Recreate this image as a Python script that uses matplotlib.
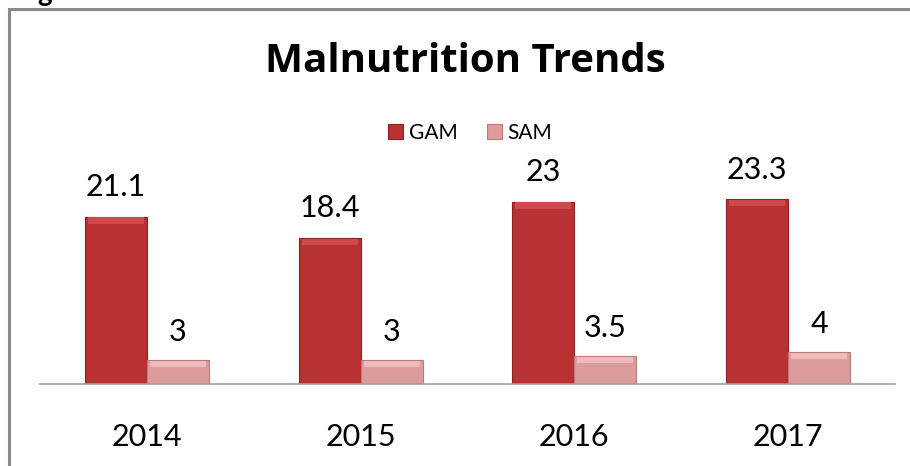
import numpy as np
import matplotlib.pyplot as plt
from matplotlib.patches import Rectangle

years = ['2014', '2015', '2016', '2017']
gam = [21.1, 18.4, 23, 23.3]
sam = [3, 3, 3.5, 4]
gam_labels = ['21.1', '18.4', '23', '23.3']
sam_labels = ['3', '3', '3.5', '4']

plt.rcParams['font.family'] = ['Lato', 'DejaVu Sans']

W, H = 910, 466
fig = plt.figure(figsize=(W / 100, H / 100), dpi=100)

# outer frame, cut off at right and bottom
fig.patches.append(Rectangle((9 / W, -0.1), 1.2, (H - 9) / H + 0.1,
                             transform=fig.transFigure, fill=False,
                             edgecolor='#8a8a8a', linewidth=2.2))
fig.text(45 / W, 1 - 1 / H, 'g', fontsize=20, fontweight='bold',
         ha='center', va='baseline')

ax = fig.add_axes([40 / W, (H - 384) / H, 855 / W, 240 / H])
x = np.arange(len(years))
w = 0.29
b1 = ax.bar(x - w / 2, gam, w, color='#b83232', edgecolor='#8e2020',
            linewidth=0.8, label='GAM')
b2 = ax.bar(x + w / 2, sam, w, color='#dd9c9c', edgecolor='#c07878',
            linewidth=0.8, label='SAM')

# lighter top bevel on each bar
for bars, c in [(b1, '#cc4a4a'), (b2, '#ecbcbc')]:
    for r in bars:
        ax.bar(r.get_x() + r.get_width() / 2, 0.8, r.get_width() * 0.9,
               bottom=r.get_height() - 0.85, color=c, linewidth=0)

for r, t in zip(b1, gam_labels):
    ax.annotate(t, (r.get_x() + r.get_width() / 2, r.get_height()),
                xytext=(0, 15), textcoords='offset points',
                ha='center', va='baseline', fontsize=22)
for r, t in zip(b2, sam_labels):
    ax.annotate(t, (r.get_x() + r.get_width() / 2, r.get_height()),
                xytext=(0, 14), textcoords='offset points',
                ha='center', va='baseline', fontsize=22)
for xi, t in zip(x, years):
    ax.annotate(t, (xi, 0), xytext=(0, -44.5), textcoords='offset points',
                ha='center', va='baseline', fontsize=22)

ax.set_xlim(-0.5, len(years) - 0.5)
ax.set_ylim(0, 30.3)
ax.set_xticks([])
ax.set_yticks([])
for s in ['top', 'right', 'left']:
    ax.spines[s].set_visible(False)
ax.spines['bottom'].set_color('#a0a0a0')
ax.spines['bottom'].set_linewidth(1.2)

fig.text(465 / W, 1 - 72 / H, 'Malnutrition Trends', fontsize=29,
         fontweight='bold', ha='center', va='baseline',
         family=['Open Sans', 'DejaVu Sans'])
fig.legend(handles=[b1, b2], loc='center',
           bbox_to_anchor=(470 / W, 1 - 133 / H), ncol=2,
           frameon=False, fontsize=15, handlelength=0.75, handleheight=0.75,
           handletextpad=0.25, columnspacing=1.4)

fig.savefig('out.png', dpi=100)
